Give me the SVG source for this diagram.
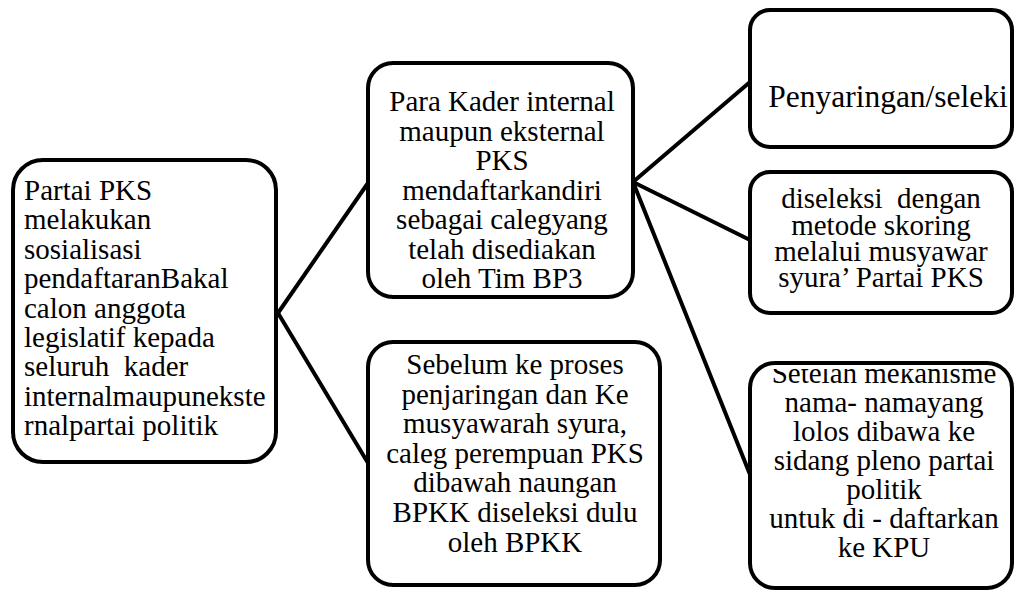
<svg xmlns="http://www.w3.org/2000/svg" width="1015" height="590" viewBox="0 0 1015 590">
<style>
.box{fill:#fff;stroke:#000;stroke-width:4}
.conn line{stroke:#000;stroke-width:4;stroke-linecap:round}
.t text{font-size:29px;fill:#000;white-space:pre}
.c{text-anchor:middle}
</style>
<defs>
<clipPath id="clip3"><rect x="750" y="369" width="262" height="219"/></clipPath>
</defs>
<rect width="1015" height="590" fill="#fff"/>
<g id="connectors" class="conn">
<line x1="278" y1="313" x2="368" y2="183"/>
<line x1="278" y1="313" x2="368" y2="463"/>
<line x1="633" y1="182" x2="750" y2="82"/>
<line x1="633" y1="182" x2="750" y2="240"/>
<line x1="633" y1="182" x2="751" y2="477"/>
</g>
<g class="t" font-family="'Liberation Serif', 'Times New Roman', serif">
<g id="node-sosialisasi">
<rect class="box" x="13" y="160" width="263" height="302" rx="30"/>
<text x="24" y="200">Partai PKS</text>
<text x="24" y="229.4">melakukan</text>
<text x="24" y="258.8">sosialisasi</text>
<text x="24" y="288.2">pendaftaranBakal</text>
<text x="24" y="317.6">calon anggota</text>
<text x="24" y="347">legislatif kepada</text>
<text x="24" y="376.4">seluruh  kader</text>
<text x="24" y="405.8">internalmaupunekste</text>
<text x="24" y="435.2">rnalpartai politik</text>
</g>
<g id="node-kader">
<rect class="box" x="368" y="63" width="265" height="234" rx="25"/>
<text class="c" x="502" y="111">Para Kader internal</text>
<text class="c" x="502" y="140.5">maupun eksternal</text>
<text class="c" x="502" y="170">PKS</text>
<text class="c" x="502" y="199.5">mendaftarkandiri</text>
<text class="c" x="502" y="229">sebagai calegyang</text>
<text class="c" x="502" y="258.5">telah disediakan</text>
<text class="c" x="502" y="288">oleh Tim BP3</text>
</g>
<g id="node-bpkk">
<rect class="box" x="368" y="342" width="292" height="243" rx="25"/>
<text class="c" x="515" y="374">Sebelum ke proses</text>
<text class="c" x="515" y="403.6">penjaringan dan Ke</text>
<text class="c" x="515" y="433.2">musyawarah syura,</text>
<text class="c" x="515" y="462.8">caleg perempuan PKS</text>
<text class="c" x="515" y="492.4">dibawah naungan</text>
<text class="c" x="515" y="522">BPKK diseleksi dulu</text>
<text class="c" x="515" y="551.6">oleh BPKK</text>
</g>
<g id="node-penyaringan">
<rect class="box" x="750" y="10" width="262" height="137" rx="20"/>
<text class="c" x="888" y="107" style="font-size:31.5px">Penyaringan/seleki</text>
</g>
<g id="node-skoring">
<rect class="box" x="750" y="172" width="262" height="141" rx="20"/>
<text class="c" x="881" y="208">diseleksi  dengan</text>
<text class="c" x="881" y="234.5">metode skoring</text>
<text class="c" x="881" y="261">melalui musyawar</text>
<text class="c" x="881" y="287">syura’ Partai PKS</text>
</g>
<g id="node-pleno">
<rect class="box" x="750" y="363" width="262" height="225" rx="25"/>
<g clip-path="url(#clip3)">
<text class="c" x="884" y="383">Setelah mekanisme</text>
</g>
<text class="c" x="884" y="412">nama- namayang</text>
<text class="c" x="884" y="441">lolos dibawa ke</text>
<text class="c" x="884" y="470">sidang pleno partai</text>
<text class="c" x="884" y="499">politik</text>
<text class="c" x="884" y="528">untuk di - daftarkan</text>
<text class="c" x="884" y="557">ke KPU</text>
</g>
</g>
</svg>
